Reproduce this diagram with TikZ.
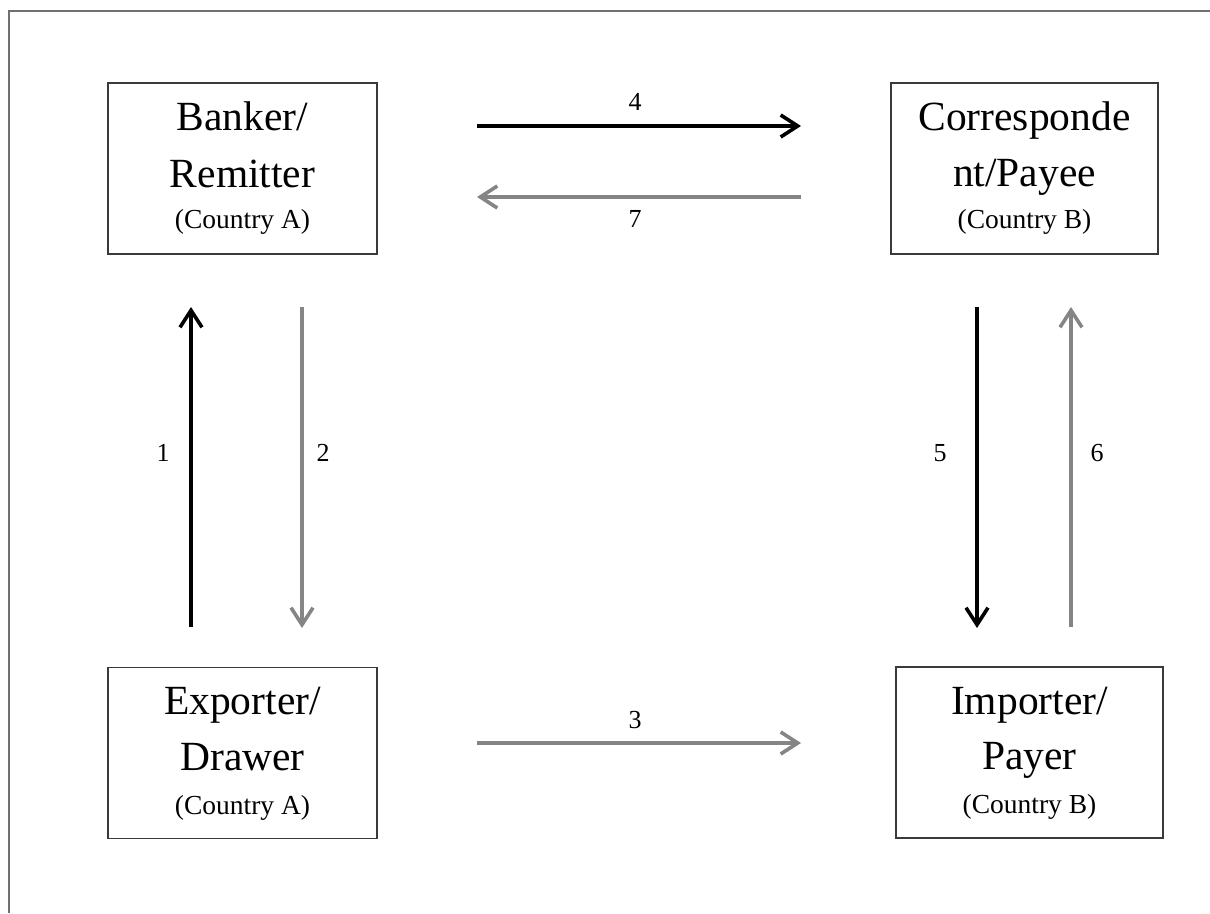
\documentclass[tikz,border=0pt]{standalone}
\usepackage{fontspec}
\setmainfont{Liberation Serif}
\usetikzlibrary{arrows.meta}
\definecolor{arrgray}{HTML}{858585}
\definecolor{boxline}{HTML}{3A3A3A}
\definecolor{framegray}{HTML}{707070}
\tikzset{
  partybox/.style={draw=boxline, line width=1.1pt, minimum width=#1, minimum height=171pt, inner sep=0pt},
  bigtxt/.style={anchor=base, inner sep=0pt, font=\fontsize{41.5}{48}\selectfont},
  smalltxt/.style={anchor=base, inner sep=0pt, font=\fontsize{27.5}{32}\selectfont},
  numtxt/.style={inner sep=0pt, font=\fontsize{26}{30}\selectfont},
  darrow/.style={line width=3.6pt, draw=black, -{Straight Barb[length=17pt, width=22pt, line width=3.6pt]}},
  garrow/.style={line width=3.6pt, draw=arrgray, -{Straight Barb[length=17pt, width=22pt, line width=3.6pt]}},
}
\begin{document}
\begin{tikzpicture}[x=1pt, y=-1pt]
\useasboundingbox (0,0) rectangle (1210,913);
% frame
\draw[framegray, line width=1.5pt] (9,913) -- (9,11) -- (1210,11);
% boxes
\node[partybox=269pt] (bank) at (242.5,168.5) {};
\node[partybox=267pt] (corr) at (1024.5,168.5) {};
\node[partybox=269pt] (expo) at (242.5,753) {};
\node[partybox=267pt] (impo) at (1029.5,752.5) {};
% texts
\node[bigtxt] (bank1) at (242.5,130) {Banker/};
\node[bigtxt] (bank2) at (242.5,187) {Remitter};
\node[smalltxt] (bank3) at (242.5,228) {(Country A)};
\node[bigtxt] (corr1) at (1024.5,130) {Corresponde};
\node[bigtxt] (corr2) at (1024.5,186) {nt/Payee};
\node[smalltxt] (corr3) at (1024.5,228) {(Country B)};
\node[bigtxt] (expo1) at (242.5,714) {Exporter/};
\node[bigtxt] (expo2) at (242.5,770) {Drawer};
\node[smalltxt] (expo3) at (242.5,814) {(Country A)};
\node[bigtxt] (impo1) at (1029.5,714) {Importer/};
\node[bigtxt] (impo2) at (1029.5,769) {Payer};
\node[smalltxt] (impo3) at (1029.5,813) {(Country B)};
% arrow end coordinates
\coordinate (a1s) at (191,627); \coordinate (a1e) at (191,307);
\coordinate (a2s) at (302,307); \coordinate (a2e) at (302,628);
\coordinate (a3s) at (477,743); \coordinate (a3e) at (801,743);
\coordinate (a4s) at (477,126); \coordinate (a4e) at (801,126);
\coordinate (a5s) at (977,307); \coordinate (a5e) at (977,628);
\coordinate (a6s) at (1071,627); \coordinate (a6e) at (1071,307);
\coordinate (a7s) at (801,197); \coordinate (a7e) at (477,197);
\draw[darrow] (a1s) -- (a1e);
\draw[garrow] (a2s) -- (a2e);
\draw[garrow] (a3s) -- (a3e);
\draw[darrow] (a4s) -- (a4e);
\draw[darrow] (a5s) -- (a5e);
\draw[garrow] (a6s) -- (a6e);
\draw[garrow] (a7s) -- (a7e);
% labels
\node[numtxt] (l1) at (163,453) {1};
\node[numtxt] (l2) at (323,453) {2};
\node[numtxt] (l3) at (635,720) {3};
\node[numtxt] (l4) at (635,102) {4};
\node[numtxt] (l5) at (940,453) {5};
\node[numtxt] (l6) at (1097,453) {6};
\node[numtxt] (l7) at (635,219) {7};
\end{tikzpicture}
\end{document}
